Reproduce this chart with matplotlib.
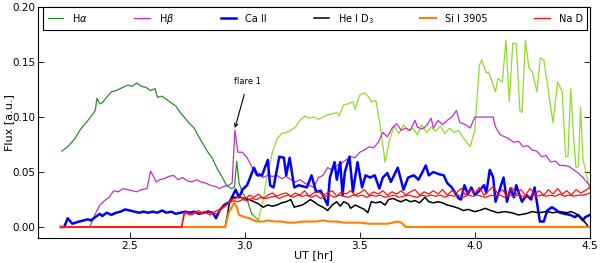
import matplotlib
matplotlib.use("Agg")
import matplotlib.pyplot as plt

# H alpha, first part (dark green)
ha1_t = [2.204, 2.23, 2.26, 2.28, 2.29, 2.31, 2.33, 2.35, 2.357, 2.37, 2.38, 2.40, 2.42, 2.44, 2.46,
         2.49, 2.51, 2.53, 2.55, 2.57, 2.59, 2.61, 2.62, 2.64, 2.66, 2.68, 2.70, 2.72, 2.74, 2.76,
         2.78, 2.80, 2.82, 2.84, 2.86, 2.88, 2.90, 2.92, 2.94, 2.955, 2.965, 2.975, 2.99, 3.01,
         3.03, 3.05, 3.065]
ha1_v = [0.069, 0.073, 0.080, 0.087, 0.090, 0.095, 0.100, 0.106, 0.117, 0.112, 0.113, 0.118, 0.123,
         0.124, 0.126, 0.129, 0.128, 0.131, 0.128, 0.127, 0.124, 0.126, 0.118, 0.119, 0.116, 0.113,
         0.110, 0.104, 0.099, 0.094, 0.090, 0.082, 0.075, 0.068, 0.062, 0.053, 0.046, 0.038, 0.035,
         0.036, 0.060, 0.040, 0.031, 0.025, 0.012, 0.008, 0.005]

# H alpha, second part (light green)
ha2_t = [3.04, 3.06, 3.08, 3.10, 3.12, 3.14, 3.16, 3.18, 3.20, 3.22, 3.24, 3.26, 3.28, 3.30, 3.32,
         3.34, 3.36, 3.38, 3.40, 3.41, 3.43, 3.45, 3.47, 3.48, 3.50, 3.52, 3.54, 3.55, 3.57, 3.59,
         3.61, 3.63, 3.65, 3.67, 3.69, 3.71, 3.73, 3.75, 3.77, 3.79, 3.81, 3.83, 3.85, 3.87, 3.89,
         3.91, 3.93, 3.95, 3.98, 4.00, 4.02, 4.03, 4.05, 4.06, 4.09, 4.10, 4.12, 4.135, 4.15, 4.165,
         4.18, 4.196, 4.205, 4.22, 4.235, 4.25, 4.27, 4.285, 4.30, 4.34, 4.36, 4.38, 4.395, 4.405,
         4.417, 4.43, 4.44, 4.45, 4.46, 4.47, 4.485, 4.50]
ha2_v = [0.010, 0.007, 0.025, 0.050, 0.068, 0.080, 0.085, 0.086, 0.088, 0.091, 0.097, 0.101, 0.099,
         0.100, 0.098, 0.100, 0.102, 0.103, 0.104, 0.101, 0.111, 0.112, 0.114, 0.107, 0.120, 0.122,
         0.118, 0.114, 0.115, 0.090, 0.059, 0.080, 0.092, 0.085, 0.093, 0.087, 0.090, 0.084, 0.093,
         0.086, 0.091, 0.087, 0.092, 0.085, 0.090, 0.086, 0.088, 0.081, 0.073, 0.088, 0.147, 0.152,
         0.140, 0.141, 0.123, 0.135, 0.132, 0.170, 0.114, 0.167, 0.167, 0.106, 0.104, 0.170, 0.145,
         0.141, 0.123, 0.154, 0.152, 0.095, 0.132, 0.123, 0.064, 0.064, 0.126, 0.080, 0.054, 0.055,
         0.109, 0.062, 0.048, 0.035]

hb_t = [2.326, 2.35, 2.37, 2.39, 2.41, 2.43, 2.45, 2.47, 2.49, 2.51, 2.53, 2.55, 2.575, 2.59, 2.60,
        2.615, 2.63, 2.65, 2.67, 2.69, 2.71, 2.73, 2.75, 2.77, 2.79, 2.81, 2.83, 2.85, 2.87, 2.89,
        2.91, 2.93, 2.945, 2.957, 2.97, 2.99, 3.01, 3.03, 3.05, 3.065, 3.08, 3.10, 3.12, 3.14, 3.16,
        3.18, 3.20, 3.22, 3.24, 3.26, 3.28, 3.30, 3.32, 3.34, 3.36, 3.38, 3.40, 3.42, 3.44, 3.46,
        3.48, 3.50, 3.52, 3.54, 3.56, 3.58, 3.60, 3.62, 3.64, 3.66, 3.68, 3.70, 3.72, 3.74, 3.75,
        3.77, 3.79, 3.81, 3.82, 3.84, 3.86, 3.88, 3.90, 3.92, 3.935, 3.96, 3.98, 4.00, 4.08, 4.09,
        4.11, 4.13, 4.15, 4.17, 4.19, 4.21, 4.23, 4.25, 4.27, 4.29, 4.31, 4.33, 4.35, 4.37, 4.39,
        4.41, 4.43, 4.45, 4.47, 4.49, 4.50]
hb_v = [0.0, 0.012, 0.020, 0.024, 0.027, 0.033, 0.032, 0.035, 0.034, 0.033, 0.032, 0.034, 0.035,
        0.051, 0.047, 0.041, 0.043, 0.044, 0.046, 0.047, 0.043, 0.045, 0.042, 0.041, 0.043, 0.041,
        0.040, 0.038, 0.037, 0.035, 0.037, 0.038, 0.040, 0.088, 0.068, 0.068, 0.063, 0.055, 0.047,
        0.049, 0.045, 0.047, 0.046, 0.047, 0.044, 0.046, 0.043, 0.041, 0.043, 0.040, 0.038, 0.036,
        0.045, 0.047, 0.054, 0.052, 0.056, 0.058, 0.061, 0.064, 0.063, 0.068, 0.070, 0.073, 0.072,
        0.077, 0.086, 0.082, 0.090, 0.094, 0.088, 0.090, 0.088, 0.097, 0.091, 0.089, 0.092, 0.099,
        0.090, 0.097, 0.093, 0.097, 0.100, 0.106, 0.095, 0.093, 0.090, 0.100, 0.100, 0.091, 0.084,
        0.082, 0.080, 0.077, 0.078, 0.073, 0.074, 0.070, 0.069, 0.064, 0.065, 0.059, 0.060, 0.056,
        0.056, 0.055, 0.052, 0.049, 0.045, 0.040, 0.037]

ca_t = [2.20, 2.215, 2.23, 2.25, 2.28, 2.30, 2.317, 2.33, 2.35, 2.37, 2.38, 2.40, 2.42, 2.44, 2.46,
        2.48, 2.50, 2.52, 2.54, 2.56, 2.58, 2.60, 2.62, 2.64, 2.66, 2.68, 2.70, 2.72, 2.74, 2.76,
        2.78, 2.80, 2.82, 2.84, 2.86, 2.875, 2.89, 2.91, 2.935, 2.96, 2.975, 2.99, 3.01, 3.04,
        3.055, 3.075, 3.10, 3.11, 3.125, 3.15, 3.17, 3.18, 3.195, 3.215, 3.235, 3.27, 3.29, 3.31,
        3.33, 3.36, 3.37, 3.39, 3.40, 3.415, 3.425, 3.435, 3.455, 3.47, 3.49, 3.51, 3.525, 3.545,
        3.565, 3.585, 3.60, 3.62, 3.635, 3.665, 3.69, 3.71, 3.735, 3.755, 3.787, 3.80, 3.82, 3.845,
        3.865, 3.88, 3.90, 3.93, 3.94, 3.955, 3.97, 3.985, 4.00, 4.02, 4.04, 4.05, 4.065, 4.08,
        4.09, 4.105, 4.125, 4.14, 4.155, 4.17, 4.18, 4.205, 4.225, 4.245, 4.26, 4.283, 4.30, 4.315,
        4.335, 4.35, 4.37, 4.39, 4.415, 4.435, 4.45, 4.47, 4.48, 4.50]
ca_v = [0.0, 0.0, 0.008, 0.003, 0.005, 0.006, 0.007, 0.006, 0.009, 0.012, 0.010, 0.013, 0.011,
        0.013, 0.014, 0.016, 0.015, 0.014, 0.013, 0.014, 0.013, 0.014, 0.013, 0.015, 0.013, 0.014,
        0.012, 0.013, 0.014, 0.013, 0.014, 0.012, 0.013, 0.014, 0.013, 0.008, 0.015, 0.020, 0.023,
        0.034, 0.027, 0.034, 0.038, 0.054, 0.047, 0.047, 0.061, 0.038, 0.036, 0.064, 0.063, 0.047,
        0.063, 0.036, 0.038, 0.036, 0.047, 0.032, 0.033, 0.020, 0.045, 0.059, 0.043, 0.059, 0.029,
        0.050, 0.064, 0.032, 0.059, 0.036, 0.047, 0.045, 0.047, 0.035, 0.045, 0.049, 0.041, 0.054,
        0.034, 0.045, 0.047, 0.043, 0.056, 0.047, 0.050, 0.048, 0.047, 0.040, 0.036, 0.026, 0.025,
        0.038, 0.030, 0.036, 0.029, 0.033, 0.038, 0.031, 0.052, 0.045, 0.023, 0.032, 0.045, 0.023,
        0.035, 0.027, 0.038, 0.023, 0.029, 0.025, 0.036, 0.005, 0.005, 0.015, 0.018, 0.016, 0.013,
        0.012, 0.011, 0.009, 0.011, 0.006, 0.009, 0.011]

he_t = [2.20, 2.915, 2.925, 2.935, 2.95, 2.98, 3.00, 3.02, 3.04, 3.06, 3.08, 3.10, 3.12, 3.14, 3.16,
        3.18, 3.20, 3.215, 3.23, 3.25, 3.265, 3.285, 3.30, 3.32, 3.34, 3.36, 3.38, 3.40, 3.415, 3.43,
        3.45, 3.46, 3.48, 3.50, 3.52, 3.535, 3.55, 3.57, 3.59, 3.61, 3.625, 3.645, 3.665, 3.68, 3.70,
        3.72, 3.74, 3.76, 3.783, 3.80, 3.82, 3.84, 3.86, 3.88, 3.90, 3.93, 3.95, 3.97, 4.00, 4.02,
        4.045, 4.07, 4.10, 4.13, 4.16, 4.19, 4.22, 4.25, 4.28, 4.31, 4.34, 4.37, 4.40, 4.42, 4.44,
        4.46, 4.48, 4.495]
he_v = [0.0, 0.0, 0.012, 0.024, 0.027, 0.027, 0.026, 0.025, 0.023, 0.021, 0.018, 0.020, 0.019,
        0.020, 0.022, 0.023, 0.025, 0.018, 0.019, 0.020, 0.022, 0.025, 0.023, 0.020, 0.018, 0.015,
        0.020, 0.023, 0.019, 0.023, 0.021, 0.017, 0.020, 0.018, 0.016, 0.013, 0.023, 0.022, 0.023,
        0.020, 0.025, 0.026, 0.024, 0.023, 0.025, 0.023, 0.024, 0.022, 0.027, 0.023, 0.022, 0.023,
        0.022, 0.020, 0.019, 0.017, 0.015, 0.016, 0.014, 0.015, 0.017, 0.015, 0.013, 0.014, 0.013,
        0.011, 0.012, 0.014, 0.013, 0.014, 0.013, 0.014, 0.013, 0.014, 0.012, 0.009, 0.004, 0.0]

si_t = [2.20, 2.915, 2.93, 2.955, 2.965, 2.975, 3.00, 3.02, 3.05, 3.08, 3.10, 3.13, 3.16, 3.19, 3.22,
        3.25, 3.28, 3.31, 3.34, 3.37, 3.40, 3.43, 3.46, 3.50, 3.54, 3.58, 3.62, 3.665, 3.68, 3.70,
        4.50]
si_v = [0.0, 0.0, 0.013, 0.022, 0.018, 0.011, 0.009, 0.008, 0.005, 0.005, 0.006, 0.005, 0.005,
        0.004, 0.004, 0.005, 0.005, 0.005, 0.006, 0.005, 0.005, 0.004, 0.004, 0.004, 0.003, 0.003,
        0.003, 0.005, 0.004, 0.0, 0.0]

na1_t = [2.20, 2.725, 2.735, 2.75, 2.77, 2.79, 2.81, 2.83, 2.85, 2.87, 2.89, 2.91, 2.93, 2.95, 2.97,
         2.99, 3.01, 3.03, 3.05, 3.07, 3.09, 3.11, 3.13, 3.15, 3.17, 3.19, 3.21, 3.23, 3.25, 3.27,
         3.29, 3.31, 3.33, 3.35, 3.37, 3.39, 3.41, 3.43, 3.45, 3.47, 3.49, 3.51, 3.53, 3.55, 3.57,
         3.59, 3.61, 3.63, 3.65, 3.67, 3.69, 3.71, 3.73, 3.75, 3.77, 3.79, 3.81, 3.83, 3.85, 3.87,
         3.89, 3.91, 3.93, 3.95, 3.97, 3.99, 4.01, 4.03, 4.05, 4.07, 4.09, 4.11, 4.13, 4.15, 4.17,
         4.19, 4.21, 4.23, 4.25, 4.27, 4.29, 4.31, 4.33, 4.35, 4.37, 4.39, 4.41, 4.43, 4.45, 4.47,
         4.49, 4.50]
na1_v = [0.0, 0.0, 0.012, 0.013, 0.011, 0.014, 0.012, 0.013, 0.011, 0.014, 0.016, 0.018, 0.022,
         0.024, 0.023, 0.025, 0.024, 0.026, 0.025, 0.027, 0.026, 0.027, 0.028, 0.026, 0.028, 0.029,
         0.027, 0.029, 0.028, 0.029, 0.027, 0.029, 0.026, 0.028, 0.029, 0.027, 0.029, 0.028, 0.027,
         0.029, 0.028, 0.029, 0.027, 0.029, 0.028, 0.029, 0.027, 0.028, 0.029, 0.027, 0.028, 0.029,
         0.028, 0.027, 0.029, 0.028, 0.029, 0.028, 0.029, 0.027, 0.029, 0.028, 0.029, 0.027, 0.029,
         0.028, 0.029, 0.028, 0.027, 0.029, 0.028, 0.029, 0.027, 0.029, 0.028, 0.029, 0.028, 0.027,
         0.029, 0.028, 0.029, 0.028, 0.029, 0.028, 0.030, 0.028, 0.029, 0.028, 0.029, 0.029, 0.030,
         0.031]

na2_t = [2.20, 2.725, 2.74, 2.76, 2.78, 2.80, 2.82, 2.84, 2.86, 2.88, 2.90, 2.92, 2.94, 2.96, 2.98,
         3.00, 3.02, 3.04, 3.06, 3.08, 3.10, 3.12, 3.14, 3.16, 3.18, 3.20, 3.22, 3.24, 3.26, 3.28,
         3.30, 3.32, 3.34, 3.36, 3.38, 3.40, 3.42, 3.44, 3.46, 3.48, 3.50, 3.52, 3.54, 3.56, 3.58,
         3.60, 3.62, 3.64, 3.66, 3.68, 3.70, 3.72, 3.74, 3.76, 3.78, 3.80, 3.82, 3.84, 3.86, 3.88,
         3.90, 3.92, 3.94, 3.96, 3.98, 4.00, 4.02, 4.04, 4.06, 4.08, 4.10, 4.12, 4.14, 4.16, 4.18,
         4.20, 4.22, 4.24, 4.26, 4.28, 4.30, 4.32, 4.34, 4.36, 4.38, 4.40, 4.42, 4.44, 4.46, 4.48,
         4.50]
na2_v = [0.0, 0.0, 0.014, 0.011, 0.013, 0.015, 0.012, 0.015, 0.013, 0.012, 0.018, 0.020, 0.025,
         0.026, 0.028, 0.025, 0.029, 0.027, 0.030, 0.026, 0.029, 0.031, 0.028, 0.030, 0.031, 0.028,
         0.031, 0.029, 0.033, 0.028, 0.031, 0.032, 0.029, 0.031, 0.033, 0.028, 0.032, 0.030, 0.033,
         0.029, 0.031, 0.034, 0.029, 0.032, 0.030, 0.033, 0.029, 0.032, 0.030, 0.033, 0.029, 0.032,
         0.034, 0.029, 0.032, 0.030, 0.033, 0.030, 0.034, 0.029, 0.033, 0.031, 0.035, 0.029, 0.034,
         0.031, 0.036, 0.029, 0.033, 0.037, 0.030, 0.034, 0.028, 0.036, 0.030, 0.034, 0.029, 0.035,
         0.030, 0.033, 0.029, 0.034, 0.030, 0.035, 0.030, 0.033, 0.029, 0.034, 0.031, 0.033, 0.036]

labels = [r"H$\alpha$", r"H$\beta$", "Ca II", r"He I D$_3$", "Si I 3905", "Na D"]

plt.rcParams["xtick.direction"] = "in"
plt.rcParams["ytick.direction"] = "in"
plt.rcParams["xtick.top"] = True
plt.rcParams["ytick.right"] = True
plt.rcParams["font.size"] = 7.5

fig = plt.figure(figsize=(6.0, 2.63), dpi=100)
ax = fig.add_axes([0.063, 0.095, 0.92, 0.878])

ax.plot(ha1_t, ha1_v, color="#2e8b2e", lw=0.9, label=labels[0])
ax.plot(ha2_t, ha2_v, color="#8fdc2a", lw=0.9)
ax.plot(hb_t, hb_v, color="#c030c0", lw=0.9, label=labels[1])
ax.plot(ca_t, ca_v, color="#0000ff", lw=1.8, label=labels[2])
ax.plot(he_t, he_v, color="black", lw=1.1, label=labels[3])
ax.plot(si_t, si_v, color="#ff8000", lw=1.5, label=labels[4])
ax.plot(na1_t, na1_v, color="#ff1010", lw=0.9, label=labels[5])
ax.plot(na2_t, na2_v, color="#ff1010", lw=0.9)

ax.annotate("flare 1", xy=(2.957, 0.090), xytext=(3.013, 0.132), fontsize=6,
            ha="center", va="center",
            arrowprops=dict(arrowstyle="->", color="black", lw=0.8, shrinkA=4, shrinkB=0))

ax.set_xlim(2.1, 4.5)
ax.set_ylim(-0.01, 0.20)
ax.set_xticks([2.5, 3.0, 3.5, 4.0, 4.5])
ax.set_yticks([0.0, 0.05, 0.10, 0.15, 0.20])
ax.set_yticklabels(["0.00", "0.05", "0.10", "0.15", "0.20"])
ax.tick_params(length=4, width=0.6, pad=2, labelsize=7.5)
ax.set_xlabel("UT [hr]", fontsize=8)
ax.set_ylabel("Flux [a.u.]", fontsize=8)
ax.xaxis.set_label_coords(0.5, -0.052)
ax.yaxis.set_label_coords(-0.043, 0.5)

leg = ax.legend(loc="lower left", bbox_to_anchor=(0.01, 0.90, 0.985, 0.078), mode="expand",
                ncol=6, fontsize=7, handlelength=1.6, borderaxespad=0, fancybox=False,
                framealpha=1, edgecolor="black", borderpad=0.45, handletextpad=0.9)
leg.get_frame().set_linewidth(0.8)

fig.savefig("out.png", dpi=100)
